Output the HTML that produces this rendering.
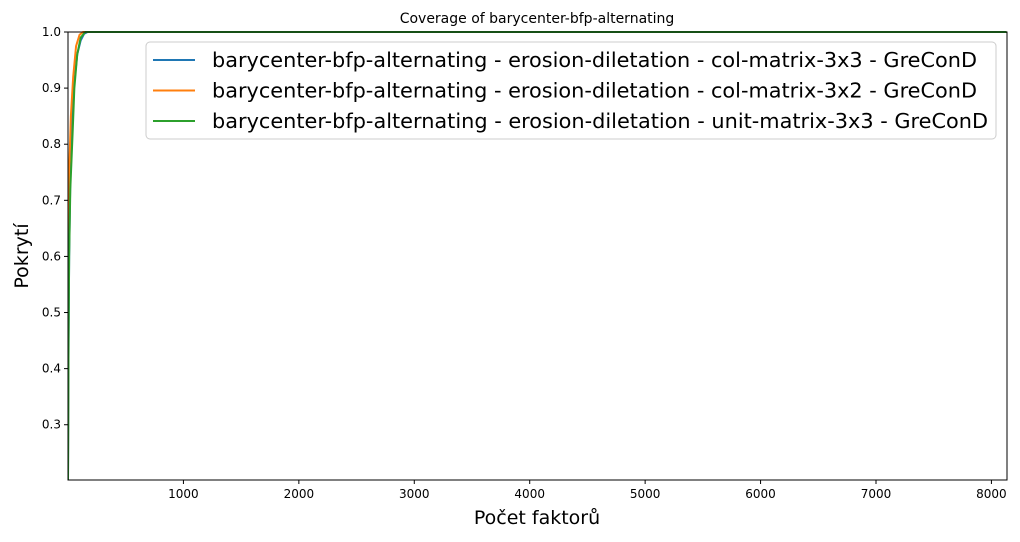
<!DOCTYPE html>
<html><head><meta charset="utf-8"><style>
body{margin:0;background:#fff;font-family:"Liberation Sans","DejaVu Sans",sans-serif}
svg text{font-family:"DejaVu Sans","Liberation Sans",sans-serif}
</style></head><body>
<svg id="c" width="1020" height="537" xmlns="http://www.w3.org/2000/svg"></svg>
<script>
const xTicks=[1000,2000,3000,4000,5000,6000,7000,8000];
const yTicks=[0.3,0.4,0.5,0.6,0.7,0.8,0.9,1.0];
const seriesNames=["barycenter-bfp-alternating - erosion-diletation - col-matrix-3x3 - GreConD","barycenter-bfp-alternating - erosion-diletation - col-matrix-3x2 - GreConD","barycenter-bfp-alternating - erosion-diletation - unit-matrix-3x3 - GreConD"];
const legendWidths=[765,765,776];
const colors=["#1f77b4","#ff7f0e","#2ca02c"];
const blueX=[0,5,10,20,30,50,80,110,140,170,8130];
const blueY=[0.2,0.45,0.6,0.74,0.81,0.9,0.96,0.985,0.997,1,1];
const orangeX=[0,3,10,25,45,70,100,130,8130];
const orangeY=[0.2,0.6,0.75,0.85,0.92,0.975,0.995,1,1];
const greenX=[0,5,10,20,40,55,80,110,150,8130];
const greenY=[0.2,0.45,0.6,0.72,0.82,0.9,0.96,0.99,1,1];
const L=68,R=1007,T=32,B=480,X0=0,X1=8135,Y0=0.2015,Y1=1.0;
const sx=v=>L+(v-X0)/(X1-X0)*(R-L), sy=v=>B-(v-Y0)/(Y1-Y0)*(B-T);
const svg=document.getElementById('c'),NS="http://www.w3.org/2000/svg";
function mk(t,a,p){const e=document.createElementNS(NS,t);for(const k in a)e.setAttribute(k,a[k]);(p||svg).appendChild(e);return e;}
const title=mk('text',{x:537,y:23,'text-anchor':'middle','font-size':14});title.textContent="Coverage of barycenter-bfp-alternating";


const clip=mk('clipPath',{id:'cp'});mk('rect',{x:L,y:T-2,width:R-L,height:B-T+2},clip);
const data=[[blueX,blueY],[orangeX,orangeY],[greenX,greenY]];
const lineNames=['series-col-matrix-3x3','series-col-matrix-3x2','series-unit-matrix-3x3'];
data.forEach((d,i)=>{const p=mk('polyline',{points:d[0].map((x,j)=>sx(x)+','+sy(d[1][j])).join(' '),fill:'none',stroke:colors[i],'stroke-width':2,'clip-path':'url(#cp)'});

});
const frame=mk('rect',{x:L,y:T,width:R-L,height:B-T,fill:'none',stroke:'#000','stroke-width':1});


xTicks.forEach(v=>{mk('line',{x1:sx(v),x2:sx(v),y1:B,y2:B+4,stroke:'#000'});const t=mk('text',{x:sx(v),y:B+18,'text-anchor':'middle','font-size':12});t.textContent=v;

});
yTicks.forEach(v=>{mk('line',{x1:L-4,x2:L,y1:sy(v),y2:sy(v),stroke:'#000'});const t=mk('text',{x:L-7,y:sy(v)+4,'text-anchor':'end','font-size':12});t.textContent=v.toFixed(1);

});
const xl=mk('text',{x:537,y:524,'text-anchor':'middle','font-size':19});xl.textContent="Počet faktorů";


const yl=mk('text',{x:28,y:256,'text-anchor':'middle','font-size':19,transform:'rotate(-90 28 256)'});yl.textContent="Pokrytí";


const lg=mk('g',{});


mk('rect',{x:146,y:42,width:850,height:97,rx:4,fill:'#fff','fill-opacity':0.8,stroke:'#ccc'},lg);
seriesNames.forEach((n,i)=>{const y=60+i*30.5;mk('line',{x1:153,x2:195,y1:y,y2:y,stroke:colors[i],'stroke-width':2},lg);
const t=mk('text',{x:212,y:y+7,'font-size':20,textLength:legendWidths[i],lengthAdjust:'spacingAndGlyphs'},lg);t.textContent=n;

});
</script>
</body></html>
